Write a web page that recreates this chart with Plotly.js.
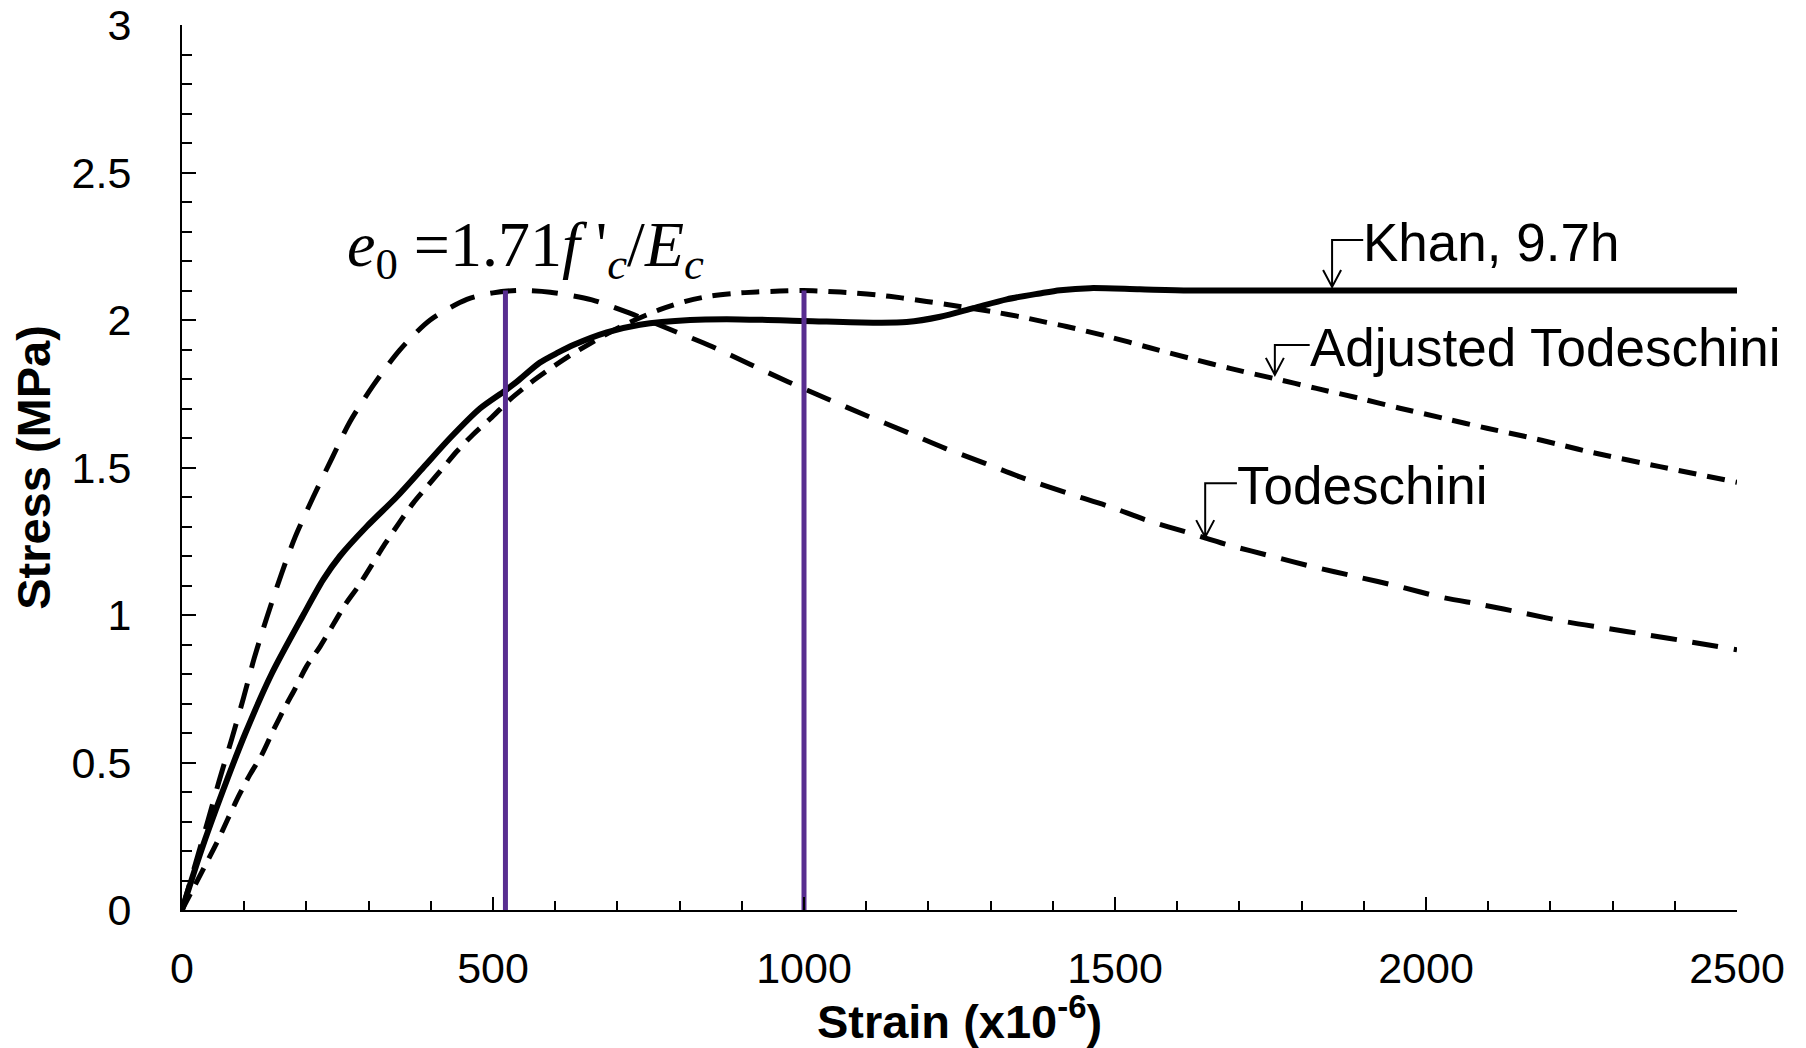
<!DOCTYPE html>
<html>
<head>
<meta charset="utf-8">
<script src="https://cdn.plot.ly/plotly-3.0.1.min.js"></script>
<style>
  html, body { margin: 0; padding: 0; background: #ffffff; }
  #chart { width: 1806px; height: 1048px; }
</style>
</head>
<body>
<div id="chart"></div>
<script>
// ---------------- DATA ----------------
// Khan, 9.7h (measured)
const khanStrain = [0, 30, 65, 102, 144, 195, 227, 254, 297, 345, 388, 431, 479, 519, 538, 575, 605, 629, 683, 736, 817, 897, 1000, 1111, 1165, 1219, 1272, 1326, 1379, 1412, 1460, 1540, 1621, 1800, 2000, 2250, 2500];
const khanStress = [0, 0.196, 0.4, 0.6, 0.8, 1.0, 1.12, 1.2, 1.3, 1.4, 1.5, 1.6, 1.7, 1.76, 1.79, 1.855, 1.89, 1.915, 1.958, 1.984, 2.0, 2.002, 1.997, 1.991, 1.993, 2.011, 2.04, 2.07, 2.09, 2.101, 2.108, 2.104, 2.1, 2.1, 2.1, 2.1, 2.1];

// Todeschini model
const todStrain = [0, 20, 42, 60, 80, 99, 116, 136, 160, 182, 211, 241, 270, 308, 350, 399, 458, 500, 540, 592, 659, 720, 787, 852, 913, 975, 1036, 1098, 1165, 1227, 1290, 1346, 1425, 1492, 1550, 1621, 1683, 1754, 1817, 1888, 1958, 2021, 2092, 2158, 2225, 2291, 2358, 2425, 2500];
const todStress = [0, 0.145, 0.305, 0.44, 0.58, 0.72, 0.853, 0.989, 1.14, 1.265, 1.40, 1.531, 1.655, 1.78, 1.898, 2.0, 2.07, 2.092, 2.1, 2.094, 2.068, 2.023, 1.966, 1.91, 1.85, 1.79, 1.734, 1.678, 1.62, 1.565, 1.515, 1.469, 1.412, 1.367, 1.322, 1.277, 1.237, 1.198, 1.164, 1.13, 1.096, 1.062, 1.034, 1.006, 0.977, 0.955, 0.932, 0.909, 0.882];

// Adjusted Todeschini model
const adjStrain = [0, 58, 74, 92, 109, 128, 147, 166, 182, 200, 222, 241, 262, 283, 305, 326, 350, 372, 396, 420, 442, 468, 498, 527, 559, 592, 624, 656, 691, 728, 768, 811, 849, 886, 924, 961, 999, 1039, 1079, 1117, 1157, 1197, 1235, 1312, 1350, 1390, 1422, 1487, 1556, 1621, 1685, 1755, 1824, 1894, 1958, 2028, 2098, 2162, 2210, 2269, 2376, 2500];
const adjStress = [0, 0.237, 0.31, 0.39, 0.458, 0.525, 0.61, 0.689, 0.751, 0.825, 0.893, 0.96, 1.034, 1.096, 1.169, 1.24, 1.315, 1.38, 1.44, 1.5, 1.555, 1.612, 1.67, 1.73, 1.785, 1.835, 1.88, 1.92, 1.962, 2.0, 2.035, 2.064, 2.081, 2.09, 2.095, 2.098, 2.1, 2.097, 2.092, 2.085, 2.075, 2.063, 2.051, 2.025, 2.01, 1.992, 1.978, 1.945, 1.906, 1.87, 1.836, 1.802, 1.768, 1.734, 1.701, 1.667, 1.633, 1.604, 1.58, 1.55, 1.503, 1.45];

// Peak-strain markers (e0 for Todeschini and Adjusted Todeschini)
const peakStrains = [520, 1000];
const peakStress = 2.1;

// Call-out labels
const calloutLabels = ['Khan, 9.7h', 'Adjusted Todeschini', 'Todeschini'];
const calloutTipX   = [1849, 1757, 1645];
const calloutTipY   = [2.112, 1.814, 1.264];
const calloutElbowY = [2.271, 1.915, 1.447];
const calloutTextX  = [1899, 1813, 1696];

// Axis tick values
const xTicks = [0, 500, 1000, 1500, 2000, 2500];
const yTicks = [0, 0.5, 1, 1.5, 2, 2.5, 3];
const yTickText = ['0', '0.5', '1', '1.5', '2', '2.5', '3'];

// ---------------- CHART ----------------
const SANS = 'Liberation Sans, Arial, sans-serif';
const SERIF = 'Liberation Serif, Times New Roman, serif';
const PURPLE = '#582D90';

const W = 1806, H = 1048;
const M = { l: 182, r: 69, t: 25, b: 138 };
const X_RANGE = [0, 2500], Y_RANGE = [0, 3];
// size of callout arrowheads, converted from pixels to data units
const headHalfW = 9 * (X_RANGE[1] - X_RANGE[0]) / (W - M.l - M.r);
const headLen = 17 * (Y_RANGE[1] - Y_RANGE[0]) / (H - M.t - M.b);

const traces = [
  { x: todStrain, y: todStress, mode: 'lines', name: 'Todeschini',
    line: { color: '#000', width: 5, dash: '26px,16px', shape: 'spline', smoothing: 0.8 } },
  { x: adjStrain, y: adjStress, mode: 'lines', name: 'Adjusted Todeschini',
    line: { color: '#000', width: 5, dash: '18px,11px', shape: 'spline', smoothing: 0.8 } },
  { x: khanStrain, y: khanStress, mode: 'lines', name: 'Khan, 9.7h',
    line: { color: '#000', width: 6, shape: 'spline', smoothing: 0.8 } }
];
peakStrains.forEach(s => {
  traces.push({ x: [s, s], y: [0, peakStress], mode: 'lines', showlegend: false,
    line: { color: PURPLE, width: 5 } });
});

const annotations = [];
const shapes = [];
calloutLabels.forEach((lab, i) => {
  annotations.push({
    x: calloutTextX[i], y: calloutElbowY[i], xref: 'x', yref: 'y',
    text: lab, showarrow: false, xanchor: 'left', yanchor: 'middle',
    xshift: -2, yshift: -2,
    font: { family: SANS, size: 53, color: '#000' }
  });
  const tx = calloutTipX[i], ty = calloutTipY[i], ey = calloutElbowY[i], lx = calloutTextX[i];
  shapes.push({
    type: 'path', xref: 'x', yref: 'y',
    path: `M ${lx},${ey} L ${tx},${ey} L ${tx},${ty} M ${tx - headHalfW},${ty + headLen} L ${tx},${ty} L ${tx + headHalfW},${ty + headLen}`,
    line: { color: '#000', width: 2 }
  });
});

annotations.push({
  x: peakStrains[0] + 32, y: 2.24, xref: 'x', yref: 'y',
  text: '<i>e</i><sub>0</sub> =1.71<i>f</i> \'<sub><i>c</i></sub>/<i>E</i><sub><i>c</i></sub>',
  showarrow: false, xanchor: 'center', yanchor: 'middle',
  font: { family: SERIF, size: 64, color: '#000' }
});

const axisCommon = {
  showgrid: false, zeroline: false, showline: true,
  linecolor: '#000', linewidth: 2, mirror: false,
  ticks: 'inside', tickcolor: '#000', tickwidth: 2,
  tickfont: { family: SANS, size: 43, color: '#000' }
};

const layout = {
  width: W, height: H,
  paper_bgcolor: '#fff', plot_bgcolor: '#fff',
  margin: M,
  showlegend: false,
  xaxis: Object.assign({}, axisCommon, {
    range: X_RANGE, tickvals: xTicks, ticklen: 13,
    minor: { dtick: 100, ticks: 'inside', ticklen: 9, tickwidth: 2, tickcolor: '#000' },
    ticklabelstandoff: 19,
    title: { text: '<b>Strain (x10<sup>-6</sup>)</b>', standoff: 15,
      font: { family: SANS, size: 47, color: '#000' } }
  }),
  yaxis: Object.assign({}, axisCommon, {
    range: Y_RANGE, tickvals: yTicks, ticktext: yTickText, ticklen: 14,
    minor: { dtick: 0.1, ticks: 'inside', ticklen: 10, tickwidth: 2, tickcolor: '#000' },
    ticklabelstandoff: 40,
    title: { text: '<b>Stress (MPa)</b>', standoff: 6,
      font: { family: SANS, size: 47, color: '#000' } }
  }),
  annotations: annotations,
  shapes: shapes
};

Plotly.newPlot('chart', traces, layout, { staticPlot: true, displayModeBar: false });
</script>
</body>
</html>
